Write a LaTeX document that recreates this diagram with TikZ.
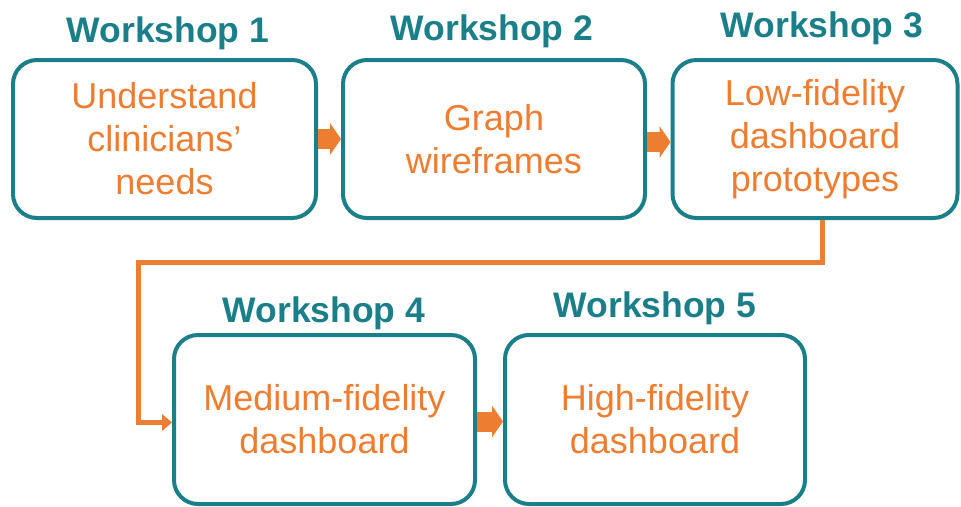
\documentclass[tikz,border=0pt]{standalone}
\usepackage{fontspec}
\setmainfont{Liberation Sans}
\usetikzlibrary{arrows.meta}
\definecolor{tealc}{HTML}{1B7F89}
\definecolor{orangec}{HTML}{ED7D31}
% uniform line extent so every stage text is centred the same way
\newcommand\stagestrut{\rule[-1pt]{0pt}{43pt}}
\tikzset{
  stage/.style={draw=tealc, line width=4pt, rounded corners=24pt, fill=white,
    align=center, text=orangec, inner sep=0pt,
    font=\fontsize{36}{43}\selectfont,
    execute at begin node=\stagestrut, execute at end node=\stagestrut},
  wtitle/.style={anchor=base, text=tealc, inner sep=0pt,
    font=\fontsize{35.5}{40}\selectfont\bfseries},
  blockarrow/.style={draw=orangec, line width=20pt, line cap=butt,
    -{Triangle[length=11pt,width=32pt,line width=0pt]}},
  flow/.style={draw=orangec, line width=5pt, line cap=butt, line join=miter,
    -{Triangle[length=10pt,width=17pt,line width=0pt]}}
}
\begin{document}
\begin{tikzpicture}[x=1pt,y=-1pt]
  \useasboundingbox[fill=white] (0,0) rectangle (961,506);

  % workshop stages
  \node[stage, minimum width=303pt, minimum height=158pt] (b1) at (164.5,139)
    {Understand\\clinicians’\\needs};
  \node[stage, minimum width=302pt, minimum height=158pt] (b2) at (494,139)
    {Graph\\wireframes};
  \node[stage, minimum width=285pt, minimum height=158pt] (b3) at (815,139)
    {Low-fidelity\\dashboard\\prototypes};
  \node[stage, minimum width=301pt, minimum height=169pt] (b4) at (324.5,419.5)
    {Medium-fidelity\\dashboard};
  \node[stage, minimum width=300pt, minimum height=169pt] (b5) at (655,419.5)
    {High-fidelity\\dashboard};

  % stage titles
  \node[wtitle] (t1) at (168,42) {Workshop 1};
  \node[wtitle] (t2) at (492,40) {Workshop 2};
  \node[wtitle] (t3) at (822,37) {Workshop 3};
  \node[wtitle] (t4) at (324,322) {Workshop 4};
  \node[wtitle] (t5) at (655,317) {Workshop 5};

  % arrows between neighbouring stages
  \draw[blockarrow] (b1.east) -- (b2.west);
  \draw[blockarrow] ([yshift=-3pt]b2.east) -- ([yshift=-3pt]b3.west);
  \draw[blockarrow] ([yshift=-2pt]b4.east) -- ([yshift=-2pt]b5.west);

  % wrap-around from the first row to the second
  \coordinate (bend) at (138,262);
  \draw[flow] ([xshift=7pt]b3.south) |- (bend) |- ([yshift=-3pt]b4.west);
\end{tikzpicture}
\end{document}
